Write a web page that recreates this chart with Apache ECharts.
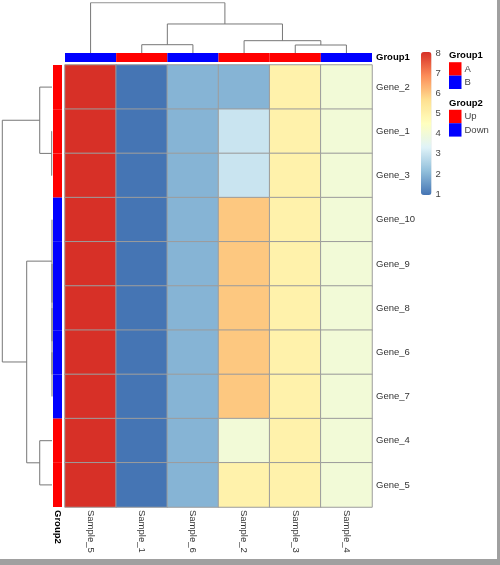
<!DOCTYPE html>
<html>
<head>
<meta charset="utf-8">
<script src="https://cdn.jsdelivr.net/npm/echarts@6/dist/echarts.min.js"></script>
<style>
html,body{margin:0;padding:0;background:#fff;}
#chart{width:500px;height:565px;}
</style>
</head>
<body>
<div id="chart"></div>
<script>
// ---------- data ----------
const samples = ['Sample_5','Sample_1','Sample_6','Sample_2','Sample_3','Sample_4'];
const genes = ['Gene_2','Gene_1','Gene_3','Gene_10','Gene_9','Gene_8','Gene_6','Gene_7','Gene_4','Gene_5'];
// expression values per sample (rows follow `genes`)
const sample5 = [8,8,8,8,8,8,8,8,8,8];
const sample1 = [1,1,1,1,1,1,1,1,1,1];
const sample6 = [2,2,2,2,2,2,2,2,2,2];
const sample2 = [2,3,3,6,6,6,6,6,4,5];
const sample3 = [5,5,5,5,5,5,5,5,5,5];
const sample4 = [4,4,4,4,4,4,4,4,4,4];
const sampleValues = [sample5, sample1, sample6, sample2, sample3, sample4];
// annotations
const group1 = ['B','A','B','A','A','B'];
const group2 = ['Up','Up','Up','Down','Down','Down','Down','Down','Up','Up'];
const group1Levels = ['A','B'];
const group2Levels = ['Up','Down'];
const group1Colors = {A:'#FF0000', B:'#0000FF'};
const group2Colors = {Up:'#FF0000', Down:'#0000FF'};
// dendrograms (hclust style: negative = leaf position+1, positive = merge step)
const colMerges = [[-2,-3,1.65],[-5,-6,1.59],[-4,2,2.45],[1,3,5.77],[-1,4,10.0]];
const rowMerges = [[-7,-8,0],[-6,1,0],[-5,2,0],[-4,3,0],[-2,-3,0.06],[-9,-10,2.47],[-1,5,2.47],[4,6,5.09],[7,8,10.0]];
const colorbarTicks = [1,8];
const palette = ['#4575B4','#91BFDB','#E0F3F8','#FFFFBF','#FEE090','#FC8D59','#D73027'];

// ---------- helpers ----------
function dendroSegments(merges, swap){
  const nodes = [];
  const get = (id) => id < 0 ? {p: -id - 0.5, h: 0} : nodes[id - 1];
  const segs = [];
  merges.forEach(m => {
    const a = get(m[0]), b = get(m[1]), h = m[2];
    nodes.push({p: (a.p + b.p) / 2, h: h});
    let pts = [[a.p, a.h],[a.p, h],[b.p, h],[b.p, b.h]];
    if (swap) pts = pts.map(q => [q[1], q[0]]);
    segs.push({coords: pts});
  });
  return segs;
}
const heatData = [];
sampleValues.forEach((col, x) => col.forEach((v, y) => heatData.push([x, y, v])));

const FONT = 'Liberation Sans, Arial, sans-serif';
const TXT = '#333';
const hiddenAxis = {show:false};

const chart = echarts.init(document.getElementById('chart'), null, {renderer:'canvas'});
const option = {
  animation:false,
  backgroundColor:'#fff',
  textStyle:{fontFamily:FONT},
  grid:[
    {left:65, top:65, width:307, height:442},
    {left:65, top:53, width:307, height:9},
    {left:53, top:65, width:9, height:442},
    {left:65, top:2.7, width:307, height:50.3},
    {left:2.3, top:65, width:49.7, height:442},
    {left:421, top:53.3, width:10.5, height:140.7}
  ],
  xAxis:[
    {gridIndex:0, type:'category', data:samples, position:'bottom',
     axisLine:{show:false}, axisTick:{show:false}, splitLine:{show:false},
     axisLabel:{rotate:-90, margin:3, fontSize:9.5, color:TXT, fontFamily:FONT}},
    {gridIndex:1, type:'category', data:samples, show:false},
    {gridIndex:2, type:'value', min:0, max:1, show:false},
    {gridIndex:3, type:'value', min:0, max:6, show:false},
    {gridIndex:4, type:'value', min:0, max:10, inverse:true, show:false},
    {gridIndex:5, type:'value', min:0, max:1, show:false}
  ],
  yAxis:[
    {gridIndex:0, type:'category', data:genes, inverse:true, position:'right',
     axisLine:{show:false}, axisTick:{show:false}, splitLine:{show:false},
     axisLabel:{margin:4, fontSize:9.5, color:TXT, fontFamily:FONT}},
    {gridIndex:1, type:'value', min:0, max:1, show:false},
    {gridIndex:2, type:'category', data:genes, inverse:true, show:false},
    {gridIndex:3, type:'value', min:0, max:10, show:false},
    {gridIndex:4, type:'value', min:0, max:10, inverse:true, show:false},
    {gridIndex:5, type:'value', min:colorbarTicks[0], max:colorbarTicks[1], interval:1, position:'right',
     axisLine:{show:false}, axisTick:{show:false}, splitLine:{show:false},
     axisLabel:{margin:4, fontSize:9.5, color:'#444', fontFamily:FONT}}
  ],
  visualMap:{
    type:'continuous', seriesIndex:0, min:1, max:8, orient:'vertical',
    left:421, top:52, itemWidth:10.5, itemHeight:143, padding:0,
    calculable:false, hoverLink:false,
    inRange:{color:palette}
  },
  series:[
    {type:'heatmap', xAxisIndex:0, yAxisIndex:0, data:heatData,
     itemStyle:{borderColor:'#9c9c9c', borderWidth:1}, silent:true},
    {type:'bar', xAxisIndex:1, yAxisIndex:1, barCategoryGap:'0%', silent:true,
     data:group1.map(g => ({value:1, itemStyle:{color:group1Colors[g]}}))},
    {type:'bar', xAxisIndex:2, yAxisIndex:2, barCategoryGap:'0%', silent:true,
     data:group2.map(g => ({value:1, itemStyle:{color:group2Colors[g]}}))},
    {type:'lines', coordinateSystem:'cartesian2d', xAxisIndex:3, yAxisIndex:3, polyline:true, silent:true,
     lineStyle:{color:'#777', width:1, opacity:1}, data:dendroSegments(colMerges, false)},
    {type:'lines', coordinateSystem:'cartesian2d', xAxisIndex:4, yAxisIndex:4, polyline:true, silent:true,
     lineStyle:{color:'#777', width:1, opacity:1}, data:dendroSegments(rowMerges, true)}
  ],
  graphic:[]
};

// annotation labels and legends
const g = option.graphic;
g.push({type:'text', x:376, y:57.8, style:{text:'Group1', font:'bold 9.5px '+FONT, fill:'#000', textAlign:'left', textVerticalAlign:'middle'}});
g.push({type:'text', x:57.5, y:510, rotation:-Math.PI/2, style:{text:'Group2', font:'bold 9.5px '+FONT, fill:'#000', textAlign:'left', textVerticalAlign:'middle'}});
function legendBlock(title, levels, colors, y0){
  g.push({type:'text', x:449, y:y0, style:{text:title, font:'bold 9.5px '+FONT, fill:'#000', textAlign:'left', textVerticalAlign:'middle'}});
  levels.forEach((lv, i) => {
    const yy = y0 + 6.5 + i*13.4;
    g.push({type:'rect', shape:{x:449, y:yy, width:12.5, height:13.4}, style:{fill:colors[lv]}});
    g.push({type:'text', x:464.5, y:yy + 6.9, style:{text:lv, font:'9.5px '+FONT, fill:'#444', textAlign:'left', textVerticalAlign:'middle'}});
  });
}
legendBlock('Group1', group1Levels, group1Colors, 55.7);
legendBlock('Group2', group2Levels, group2Colors, 103.3);
// window frame
g.push({type:'rect', shape:{x:497, y:0, width:3, height:565}, style:{fill:'#a0a0a0'}});
g.push({type:'rect', shape:{x:0, y:559, width:500, height:6}, style:{fill:'#a0a0a0'}});

chart.setOption(option);
</script>
</body>
</html>
